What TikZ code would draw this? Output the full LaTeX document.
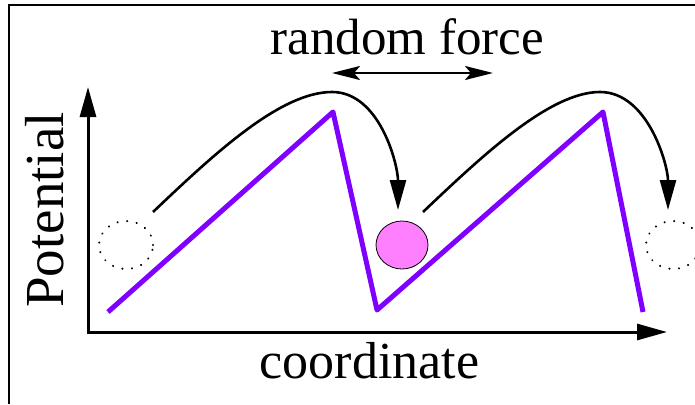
\documentclass[tikz,border=0pt]{standalone}
\usepackage{fontspec}
\setmainfont{Liberation Serif}
\newfontfamily\figfont{Liberation Serif}
\usetikzlibrary{arrows.meta,shapes.geometric}
\definecolor{potcol}{RGB}{128,0,255}
\definecolor{ballpink}{RGB}{255,128,255}
\begin{document}
\begin{tikzpicture}[x=1pt,y=-1pt,
  axisline/.style={line width=3pt,{Triangle[length=30pt,width=16pt]}-{Triangle[length=30pt,width=16pt]}},
  hop/.style={line width=2.6pt,-{Triangle[length=30pt,width=16pt]}},
  force/.style={line width=2.6pt,{Stealth[length=28pt,width=14pt,inset=6pt]}-{Stealth[length=28pt,width=14pt,inset=6pt]}},
  ghost/.style={ellipse,draw,line width=2.2pt,line cap=round,dash pattern=on 0.1pt off 9.6pt,minimum width=54pt,minimum height=48pt,inner sep=0pt},
  particle/.style={ellipse,draw,line width=0.8pt,fill=ballpink,minimum width=52pt,minimum height=48pt,inner sep=0pt},
  txt/.style={anchor=base,inner sep=0pt}]
\useasboundingbox (0,0) rectangle (695,404);
% frame
\draw[line width=2pt] (9,404) -- (9,5) -- (695,5);
% axes
\coordinate (orig) at (88,332);
\coordinate (ytip) at (88,87);
\coordinate (xtip) at (667,332);
\draw[axisline] (ytip) -- (orig) -- (xtip);
% potential
\draw[potcol,line width=5pt,line join=round] (108,312) -- (333,112) -- (377,310) -- (603,112) -- (643,312);
% particles
\node[ghost] (ghostL) at (126,245) {};
\node[ghost] (ghostR) at (673,245) {};
\node[particle] (ball) at (402,245) {};
% hops
\coordinate (s1) at (153,212);
\coordinate (t1) at (398,210);
\coordinate (s2) at (423,212);
\coordinate (t2) at (668,210);
\draw[hop] (s1) .. controls (213,155) and (280,92) .. (332,92) .. controls (380,92) and (398,165) .. (t1);
\draw[hop] (s2) .. controls (483,155) and (550,92) .. (600,92) .. controls (648,92) and (668,165) .. (t2);
% random force
\coordinate (fl) at (332,73);
\coordinate (fr) at (493,73);
\draw[force] (fl) -- (fr);
% labels
\node[txt,font=\figfont\fontsize{51}{56}\selectfont] (rf) at (407.5,55) {random force};
\node[txt,font=\figfont\fontsize{52}{57}\selectfont] (coord) at (369.5,378) {coordinate};
\node[txt,font=\figfont\fontsize{55}{60}\selectfont,rotate=90] (potlabel) at (63,210) {Potential};
\end{tikzpicture}
\end{document}
